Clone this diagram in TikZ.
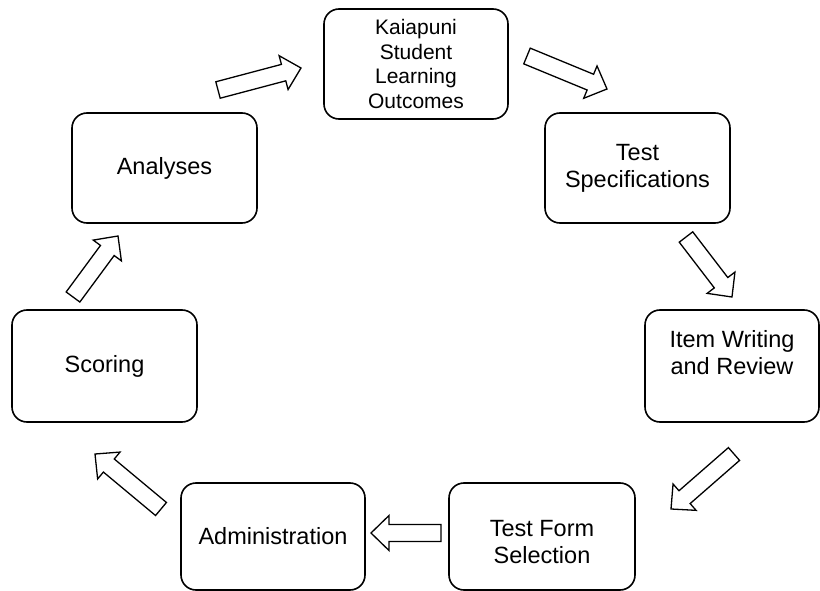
\documentclass[tikz,border=0pt]{standalone}
\usepackage{fontspec}
\setmainfont{Liberation Sans}
\usetikzlibrary{calc}
\tikzset{
  box/.style={draw, line width=1.6pt, rounded corners=15pt, inner sep=0pt, align=center,
    font=\fontsize{23.5}{27}\selectfont},
  smalltext/.style={font=\fontsize{21}{24.6}\selectfont},
  blockarr/.style={draw, line width=1.3pt, fill=white, line join=miter},
}
% block arrow from coordinate #1 (tail) to coordinate #2 (tip)
\newcommand\blkarrow[2]{%
  \coordinate (hb#1) at ($(#2)!18pt!(#1)$);
  \draw[blockarr] ($(#1)!8.5pt!90:(#2)$) -- ($(hb#1)!8.5pt!90:(#2)$) -- ($(hb#1)!17.5pt!90:(#2)$)
    -- (#2) -- ($(hb#1)!17.5pt!-90:(#2)$) -- ($(hb#1)!8.5pt!-90:(#2)$) -- ($(#1)!8.5pt!-90:(#2)$) -- cycle;
}
\begin{document}
\begin{tikzpicture}[x=1pt,y=-1pt]
\useasboundingbox (0,0) rectangle (820,591);
\fill[white] (0,0) rectangle (820,591);

% boxes
\node[box, smalltext, minimum width=184pt, minimum height=110pt] (k) at (416,64) {Kaiapuni\\Student\\Learning\\Outcomes};
\node[box, minimum width=185pt, minimum height=110pt] (ts) at (637.5,168) {Test\\Specifications};
\node[box, minimum width=174pt, minimum height=112pt] (iw) at (732,366) {Item Writing\\and Review\\\mbox{}};
\node[box, minimum width=186pt, minimum height=107pt] (tf) at (542,536.5) {\mbox{}\\Test Form\\Selection};
\node[box, minimum width=184pt, minimum height=107pt] (ad) at (273,536.5) {Administration};
\node[box, minimum width=185pt, minimum height=112pt] (sc) at (104.5,366) {Scoring};
\node[box, minimum width=185pt, minimum height=110pt] (an) at (164.5,168) {Analyses};

% arrow end points
\coordinate (a1t) at (218,90);  \coordinate (a1h) at (301,68);
\coordinate (a2t) at (527,56);  \coordinate (a2h) at (607,89);
\coordinate (a3t) at (686,237); \coordinate (a3h) at (732,297);
\coordinate (a4t) at (734,454); \coordinate (a4h) at (671,509);
\coordinate (a5t) at (441,533); \coordinate (a5h) at (371,533);
\coordinate (a6t) at (161,509); \coordinate (a6h) at (95,454);
\coordinate (a7t) at (73,297);  \coordinate (a7h) at (118,236);

\blkarrow{a1t}{a1h}
\blkarrow{a2t}{a2h}
\blkarrow{a3t}{a3h}
\blkarrow{a4t}{a4h}
\blkarrow{a5t}{a5h}
\blkarrow{a6t}{a6h}
\blkarrow{a7t}{a7h}
\end{tikzpicture}
\end{document}
